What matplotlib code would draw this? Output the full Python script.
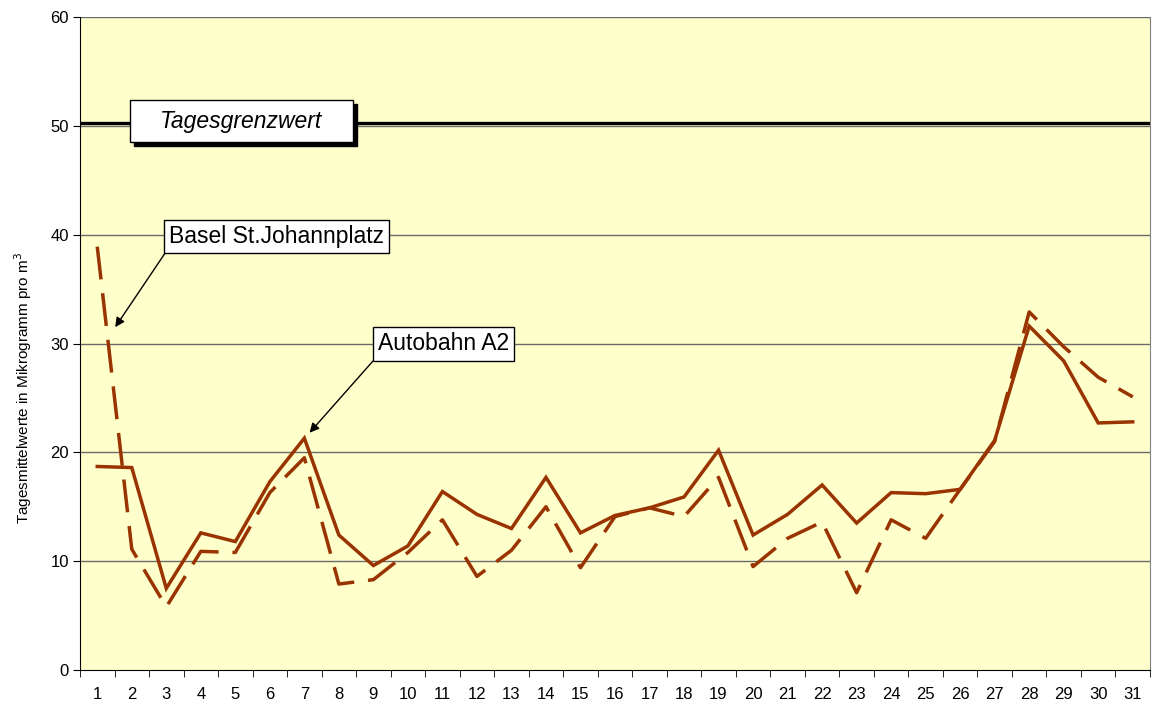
#!/usr/bin/env python3
import matplotlib
matplotlib.use("Agg")
import matplotlib.pyplot as plt
from matplotlib.patches import Rectangle
import numpy as np

plt.rcParams['font.family'] = ['Liberation Sans', 'DejaVu Sans']

# Days of the month
days = list(range(1, 32))

# Autobahn A2 (solid)
autobahn = [18.7, 18.6, 7.5, 12.6, 11.8, 17.3, 21.3, 12.4, 9.6, 11.4,
            16.4, 14.3, 13.0, 17.7, 12.6, 14.2, 14.9, 15.9, 20.2, 12.4,
            14.3, 17.0, 13.5, 16.3, 16.2, 16.6, 21.1, 31.6, 28.4, 22.7, 22.8]

# Basel St.Johannplatz (dashed)
basel = [38.9, 11.1, 5.8, 10.9, 10.8, 16.3, 19.5, 7.9, 8.3, 10.8,
         13.8, 8.6, 11.0, 15.0, 9.4, 14.1, 14.9, 14.1, 17.7, 9.5,
         12.1, 13.6, 7.1, 13.8, 12.1, 16.6, 21.0, 32.9, 29.7, 26.9, 25.1]

limit_value = 50.25
y_ticks = [0, 10, 20, 30, 40, 50, 60]

LINE_COLOR = '#993300'
BG_COLOR = '#FFFFCC'

fig = plt.figure(figsize=(11.53, 7.11), dpi=100)
ax = fig.add_axes([80 / 1153, 41 / 711, 1070 / 1153, 653 / 711])
ax.set_facecolor(BG_COLOR)

ax.set_xlim(0.5, 31.5)
ax.set_ylim(0, 60)

# gridlines
for y in y_ticks[1:]:
    ax.axhline(y, color='#6b6b6b', lw=1.0, zorder=1)

# limit line
ax.axhline(limit_value, color='black', lw=2.4, zorder=2)

ax.plot(days, autobahn, color=LINE_COLOR, lw=2.5, zorder=4,
        solid_joinstyle='miter')
ax.plot(days, basel, color=LINE_COLOR, lw=2.5, linestyle=(0, (9.5, 4)),
        zorder=3, dash_capstyle='butt')

# axes styling
ax.spines['top'].set_visible(False)
ax.spines['right'].set_color('#808080')
ax.spines['left'].set_color('black')
ax.spines['bottom'].set_color('black')

ax.set_yticks(y_ticks)
ax.set_xticks(days)
ax.set_xticklabels([str(d) for d in days])
ax.set_xticks(np.arange(0.5, 32, 1), minor=True)
ax.tick_params(axis='x', which='major', length=0, pad=12, labelsize=12)
ax.tick_params(axis='x', which='minor', length=5, direction='out')
ax.tick_params(axis='y', length=5, direction='out', labelsize=12, pad=3)

ax.set_ylabel('Tagesmittelwerte in Mikrogramm pro m$^3$', fontsize=11)
ax.yaxis.set_label_coords(-0.043, 0.432)

# Tagesgrenzwert box with shadow
box_x, box_y, box_w, box_h = 1.95, 48.5, 6.46, 3.85
shadow = Rectangle((box_x + 0.11, box_y - 0.33), box_w, box_h,
                   facecolor='black', edgecolor='black', zorder=5)
box = Rectangle((box_x, box_y), box_w, box_h, facecolor='white',
                edgecolor='black', lw=1.0, zorder=6)
ax.add_patch(shadow)
ax.add_patch(box)
ax.text(box_x + box_w / 2, box_y + box_h / 2, 'Tagesgrenzwert', fontsize=16.5,
        style='italic', ha='center', va='center', zorder=7)

# Series labels with arrows
ax.annotate('Basel St.Johannplatz', xy=(1.52, 31.5), xytext=(3.07, 38.8),
            fontsize=16.5, ha='left', va='bottom', zorder=8,
            bbox=dict(boxstyle='square,pad=0.22', fc='white', ec='black', lw=1.0),
            arrowprops=dict(arrowstyle='-|>', color='black', lw=1.0,
                            relpos=(0, 0), mutation_scale=14, shrinkA=0, shrinkB=0))
ax.annotate('Autobahn A2', xy=(7.15, 21.8), xytext=(9.13, 28.9),
            fontsize=16.5, ha='left', va='bottom', zorder=8,
            bbox=dict(boxstyle='square,pad=0.22', fc='white', ec='black', lw=1.0),
            arrowprops=dict(arrowstyle='-|>', color='black', lw=1.0,
                            relpos=(0, 0), mutation_scale=14, shrinkA=0, shrinkB=0))

fig.savefig('out.png', dpi=100)
